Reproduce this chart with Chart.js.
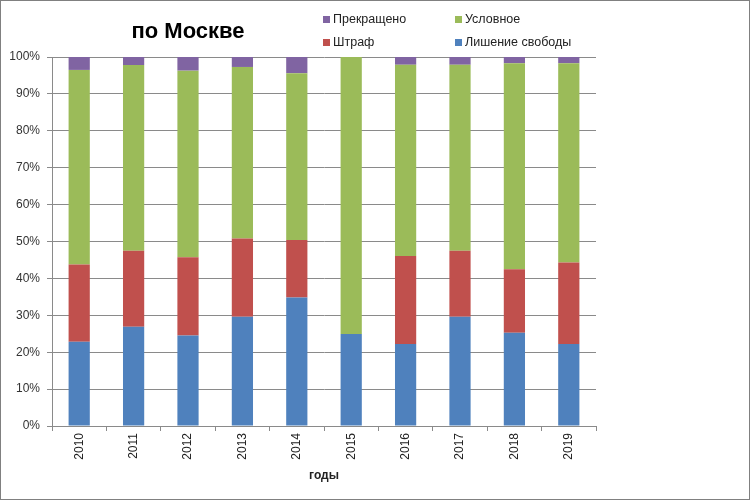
<!DOCTYPE html>
<html>
<head>
<meta charset="utf-8">
<script src="https://cdn.jsdelivr.net/npm/chart.js@4/dist/chart.umd.min.js"></script>
<style>
  html, body { margin: 0; padding: 0; background: #fff; }
  #chart { display: block; }
</style>
</head>
<body>
<canvas id="chart" width="750" height="500"></canvas>
<script>
// data (shares in %)
const years = ["2010", "2011", "2012", "2013", "2014", "2015", "2016", "2017", "2018", "2019"];
const prison      = [22.8, 26.9, 24.5, 29.6, 34.8, 24.9, 22.2, 29.6, 25.3, 22.2];
const fine        = [21.0, 20.6, 21.2, 21.2, 15.6, 0.0, 23.9, 17.9, 17.2, 22.1];
const conditional = [52.7, 50.3, 50.6, 46.5, 45.2, 75.1, 51.8, 50.4, 55.8, 54.0];
const terminated  = [3.5, 2.2, 3.7, 2.7, 4.4, 0.0, 2.1, 2.1, 1.7, 1.7];

const chartTitle = "по Москве";
const axisTitle = "годы";

const gridColor = "#8a8a8a";
const font = "'Liberation Sans', Arial, sans-serif";

// title, legend and frame drawn on top
const decorations = {
  id: "decorations",
  beforeDraw(chart) {
    const c = chart.ctx;
    c.save();
    c.fillStyle = "#fff";
    c.fillRect(0, 0, chart.width, chart.height);
    c.restore();
  },
  afterDraw(chart) {
    const c = chart.ctx;
    const ds = chart.data.datasets;
    c.save();

    // frame
    c.strokeStyle = "#808080";
    c.lineWidth = 1;
    c.strokeRect(0.5, 0.5, chart.width - 1, chart.height - 1);

    // title
    c.fillStyle = "#000";
    c.font = "bold 22px " + font;
    c.textAlign = "center";
    c.textBaseline = "middle";
    c.fillText(chartTitle, 188, 32);

    // legend, 2 x 2
    const slots = [
      { i: 3, x: 323, y: 20 },
      { i: 2, x: 455, y: 20 },
      { i: 1, x: 323, y: 43 },
      { i: 0, x: 455, y: 43 }
    ];
    c.font = "12.5px " + font;
    c.textAlign = "left";
    slots.forEach(s => {
      c.fillStyle = ds[s.i].backgroundColor;
      c.fillRect(s.x, s.y - 4, 7, 7);
      c.fillStyle = "#222";
      c.fillText(ds[s.i].label, s.x + 10, s.y);
    });
    c.restore();
  }
};

const ctx = document.getElementById("chart").getContext("2d");

new Chart(ctx, {
  type: "bar",
  data: {
    labels: years,
    datasets: [
      { label: "Лишение свободы", data: prison, backgroundColor: "#4F81BD" },
      { label: "Штраф", data: fine, backgroundColor: "#C0504D" },
      { label: "Условное", data: conditional, backgroundColor: "#9BBB59" },
      { label: "Прекращено", data: terminated, backgroundColor: "#8064A2" }
    ]
  },
  options: {
    responsive: false,
    animation: false,
    categoryPercentage: 1,
    barPercentage: 0.39,
    layout: { padding: { top: 57, right: 154, bottom: 0, left: 0 } },
    plugins: {
      legend: { display: false },
      tooltip: { enabled: false }
    },
    scales: {
      x: {
        stacked: true,
        afterFit: s => { s.height = 74; },
        grid: {
          offset: true,
          drawOnChartArea: false,
          drawTicks: true,
          tickLength: 5,
          color: gridColor
        },
        border: { display: true, color: gridColor },
        ticks: {
          autoSkip: false,
          minRotation: 90,
          maxRotation: 90,
          padding: 2,
          color: "#222",
          font: { family: font, size: 12 }
        },
        title: {
          display: true,
          text: axisTitle,
          color: "#222",
          font: { family: font, size: 12, weight: "bold" },
          padding: { top: 0, bottom: 17 }
        }
      },
      y: {
        stacked: true,
        min: 0,
        max: 100,
        afterFit: s => { s.width = 52; },
        grid: { color: gridColor, tickLength: 5 },
        border: { display: true, color: gridColor },
        ticks: {
          stepSize: 10,
          padding: 7,
          color: "#333",
          font: { family: font, size: 12 },
          callback: v => v + "%"
        }
      }
    }
  },
  plugins: [decorations]
});
</script>
</body>
</html>
